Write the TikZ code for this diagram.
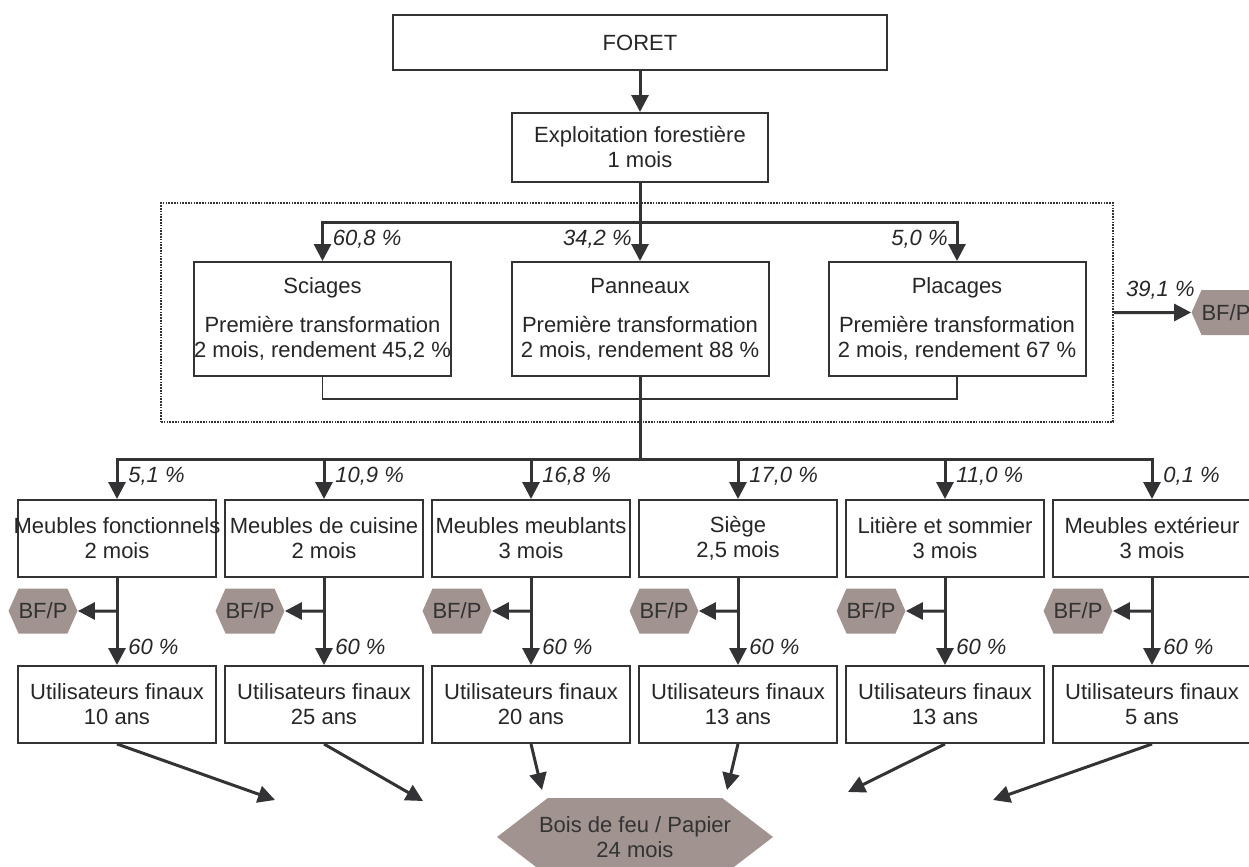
\documentclass[tikz,border=0pt]{standalone}
\usepackage{fontspec}
\setmainfont{Liberation Sans}
\usetikzlibrary{arrows.meta,shapes.symbols,positioning,calc}
\definecolor{trait}{HTML}{333336}
\definecolor{bfp}{HTML}{A1938F}

\begin{document}
\begin{tikzpicture}[
    x=0.5pt, y=-0.5pt,
    every node/.style={font=\fontsize{11}{12.5}\selectfont, text=black!85},
    boite/.style={draw=trait, line width=1pt, fill=white, align=center, inner sep=0pt},
    petit/.style={boite, minimum width=99pt, minimum height=38.5pt},
    hexa/.style={signal, signal to=east and west, fill=bfp, text=black!80, align=center, inner sep=0pt,
        minimum width=34pt, minimum height=22.5pt, signal pointer angle=132},
    pct/.style={font=\fontsize{11}{12.5}\selectfont\itshape, inner sep=0pt},
    fl/.style={-{Triangle[length=8.5pt,width=8.5pt]}, line width=1.5pt, draw=trait},
    lien/.style={line width=1.5pt, draw=trait},
    fin/.style={line width=0.8pt, draw=trait}
]
\useasboundingbox (0,0) rectangle (1249,867);

% haut
\node[boite, minimum width=247pt, minimum height=27.5pt] (foret) at (640,42.5) {FORET};
\node[boite, minimum width=128pt, minimum height=34.5pt] (exploit) at (640,147.5) {Exploitation forestière\\1 mois};
\node[draw=trait, line width=1.2pt, dash pattern=on 0.8pt off 0.6pt, minimum width=476pt, minimum height=109.5pt] (bloc) at (637,312.5) {};

% premiere transformation
\node[boite, minimum width=128.5pt, minimum height=57pt] (sciages) at (322.5,319) {Sciages\\[7pt]Première transformation\\2 mois, rendement 45,2 \%};
\node[boite, minimum width=128.5pt, minimum height=57pt] (panneaux) at (640,319) {Panneaux\\[7pt]Première transformation\\2 mois, rendement 88 \%};
\node[boite, minimum width=128.5pt, minimum height=57pt] (placages) at (957,319) {Placages\\[7pt]Première transformation\\2 mois, rendement 67 \%};
\node[hexa] (bf0) at (1226,312.5) {BF/P};

\node[pct, anchor=west] (p1) at ([xshift=5pt, yshift=11pt]sciages.north) {60,8 \%};
\node[pct, anchor=east] (p2) at ([xshift=-4pt, yshift=11pt]panneaux.north) {34,2 \%};
\node[pct, anchor=east] (p3) at ([xshift=-4.5pt, yshift=11pt]placages.north) {5,0 \%};

% meubles
\node[petit] (m1) at (117,538.5) {\makebox[99pt]{Meubles fonctionnels}\\2 mois};
\node[petit] (m2) at (324,538.5) {Meubles de cuisine\\2 mois};
\node[petit] (m3) at (531,538.5) {Meubles meublants\\3 mois};
\node[petit] (m4) at (738,538.5) {Siège\\2,5 mois};
\node[petit] (m5) at (945,538.5) {Litière et sommier\\3 mois};
\node[petit] (m6) at (1152,538.5) {Meubles extérieur\\3 mois};

\node[pct, anchor=west] (q1) at ([xshift=5.5pt, yshift=11.5pt]m1.north) {5,1 \%};
\node[pct, anchor=west] (q2) at ([xshift=5.5pt, yshift=11.5pt]m2.north) {10,9 \%};
\node[pct, anchor=west] (q3) at ([xshift=5.5pt, yshift=11.5pt]m3.north) {16,8 \%};
\node[pct, anchor=west] (q4) at ([xshift=5.5pt, yshift=11.5pt]m4.north) {17,0 \%};
\node[pct, anchor=west] (q5) at ([xshift=5.5pt, yshift=11.5pt]m5.north) {11,0 \%};
\node[pct, anchor=west] (q6) at ([xshift=5.5pt, yshift=11.5pt]m6.north) {0,1 \%};

\node[hexa] (bf1) at (43,611) {BF/P};
\node[hexa] (bf2) at (250,611) {BF/P};
\node[hexa] (bf3) at (457,611) {BF/P};
\node[hexa] (bf4) at (664,611) {BF/P};
\node[hexa] (bf5) at (871,611) {BF/P};
\node[hexa] (bf6) at (1078,611) {BF/P};

% utilisateurs
\node[petit] (u1) at (117,704.5) {Utilisateurs finaux\\10 ans};
\node[petit] (u2) at (324,704.5) {Utilisateurs finaux\\25 ans};
\node[petit] (u3) at (531,704.5) {Utilisateurs finaux\\20 ans};
\node[petit] (u4) at (738,704.5) {Utilisateurs finaux\\13 ans};
\node[petit] (u5) at (945,704.5) {Utilisateurs finaux\\13 ans};
\node[petit] (u6) at (1152,704.5) {Utilisateurs finaux\\5 ans};

\node[pct, anchor=west] (r1) at ([xshift=5.5pt, yshift=9pt]u1.north) {60 \%};
\node[pct, anchor=west] (r2) at ([xshift=5.5pt, yshift=9pt]u2.north) {60 \%};
\node[pct, anchor=west] (r3) at ([xshift=5.5pt, yshift=9pt]u3.north) {60 \%};
\node[pct, anchor=west] (r4) at ([xshift=5.5pt, yshift=9pt]u4.north) {60 \%};
\node[pct, anchor=west] (r5) at ([xshift=5.5pt, yshift=9pt]u5.north) {60 \%};
\node[pct, anchor=west] (r6) at ([xshift=5.5pt, yshift=9pt]u6.north) {60 \%};

\node[hexa, minimum width=138pt, minimum height=39pt, signal pointer angle=75] (bois) at (635,837) {\makebox[80pt]{Bois de feu / Papier}\\24 mois};

% liaisons
\coordinate (haut) at (640,222);
\coordinate (bas) at (640,399);
\coordinate (milieu) at (640,459);

\draw[fl] (foret) -- (exploit);
\draw[lien] (exploit.south) -- (haut);
\draw[fl] (haut) -| (sciages.north);
\draw[fl] (haut) -- (panneaux.north);
\draw[fl] (haut) -| (placages.north);
\draw[fin] (sciages.south) |- (bas) -| (placages.south);
\draw[lien] (panneaux.south) -- (milieu);
\draw[fl] (bloc.east) -- node[pct, above=6pt, pos=0.6] (p4) {39,1 \%} (bf0);

\draw[fl] (milieu) -| (m1.north);
\draw[fl] (milieu) -| (m2.north);
\draw[fl] (milieu) -| (m3.north);
\draw[fl] (milieu) -| (m4.north);
\draw[fl] (milieu) -| (m5.north);
\draw[fl] (milieu) -| (m6.north);

\draw[fl] (m1) -- (u1);
\draw[fl] (m2) -- (u2);
\draw[fl] (m3) -- (u3);
\draw[fl] (m4) -- (u4);
\draw[fl] (m5) -- (u5);
\draw[fl] (m6) -- (u6);

\draw[fl] (m1.south |- bf1) -- (bf1);
\draw[fl] (m2.south |- bf2) -- (bf2);
\draw[fl] (m3.south |- bf3) -- (bf3);
\draw[fl] (m4.south |- bf4) -- (bf4);
\draw[fl] (m5.south |- bf5) -- (bf5);
\draw[fl] (m6.south |- bf6) -- (bf6);

% vers bois de feu
\coordinate (c1) at (275,800);
\coordinate (c2) at (423,801);
\coordinate (c3) at (542,790);
\coordinate (c4) at (727,790);
\coordinate (c5) at (848,792);
\coordinate (c6) at (993,800);
\draw[fl] (u1.south) -- (c1);
\draw[fl] (u2.south) -- (c2);
\draw[fl] (u3.south) -- (c3);
\draw[fl] (u4.south) -- (c4);
\draw[fl] (u5.south) -- (c5);
\draw[fl] (u6.south) -- (c6);
\end{tikzpicture}
\end{document}
